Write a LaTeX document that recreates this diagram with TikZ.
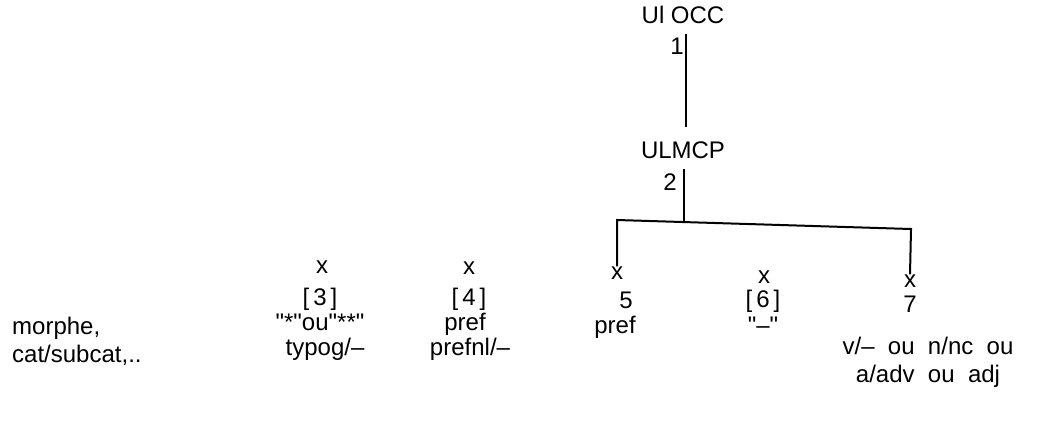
\documentclass[tikz,border=0pt]{standalone}
\usepackage{fontspec}
\setmainfont{Liberation Sans}[Ligatures=TeXOff]
\usepackage{tikz}
\usetikzlibrary{positioning}

\begin{document}
\begin{tikzpicture}[x=1pt,y=-1pt,font=\fontsize{24}{28}\selectfont,
  lbl/.style={inner sep=0pt},
  mark x/.style={inner sep=0pt,font=\fontsize{24}{24}\selectfont},
  branch/.style={line width=2pt}]
\useasboundingbox (0,0) rectangle (1054,421);
% sommets du haut
\node[lbl] (ulocc) at (683,15) {Ul OCC};
\node[lbl] (one) at (677,46) {1};
\node[lbl] (ulmcp) at (683,150) {ULMCP};
\node[lbl] (two) at (670,182) {2};
\draw[branch] ([xshift=3pt,yshift=-10pt]ulocc.south) -- ([xshift=3pt,yshift=14pt]ulmcp.north);
% les constituants
\node[mark x] (x3) at (322,267) {x};
\node[lbl] (n3) at (320,299) {[\,3\,]};
\node[lbl] (q3) at (320,322) {"*"ou"**"};
\node[lbl] (t3) at (325,349) {typog/\textendash};
\node[mark x] (x4) at (469,268) {x};
\node[lbl] (n4) at (469,299) {[\,4\,]};
\node[lbl] (p4) at (465,324) {pref};
\node[lbl] (s4) at (470,349) {prefnl/\textendash};
\node[mark x] (x5) at (617,273) {x};
\node[lbl] (n5) at (626,300) {5};
\node[lbl] (p5) at (615,327) {pref};
\node[mark x] (x6) at (764,277) {x};
\node[lbl] (n6) at (763,301) {[\,6\,]};
\node[lbl] (q6) at (763,325) {"\textendash"};
\node[mark x] (x7) at (910,281) {x};
\node[lbl] (n7) at (910,304) {7};
\node[lbl,align=center] (c7) at (928,362) {v/\textendash\ \ ou\ \ n/nc\ \ ou\\a/adv\ \ ou\ \ adj};
\node[lbl,align=left,anchor=west] (morph) at (12,341) {morphe,\\cat/subcat,..};
% la fourche
\coordinate (jl) at (617,220);
\coordinate (jr) at (911,229);
\coordinate (jm) at (684,222);
\draw[branch] ([xshift=1pt,yshift=-10pt]ulmcp.south) -- (jm);
\draw[branch] (x5.north) -- (jl) -- (jr) -- (x7.north);
\end{tikzpicture}
\end{document}
